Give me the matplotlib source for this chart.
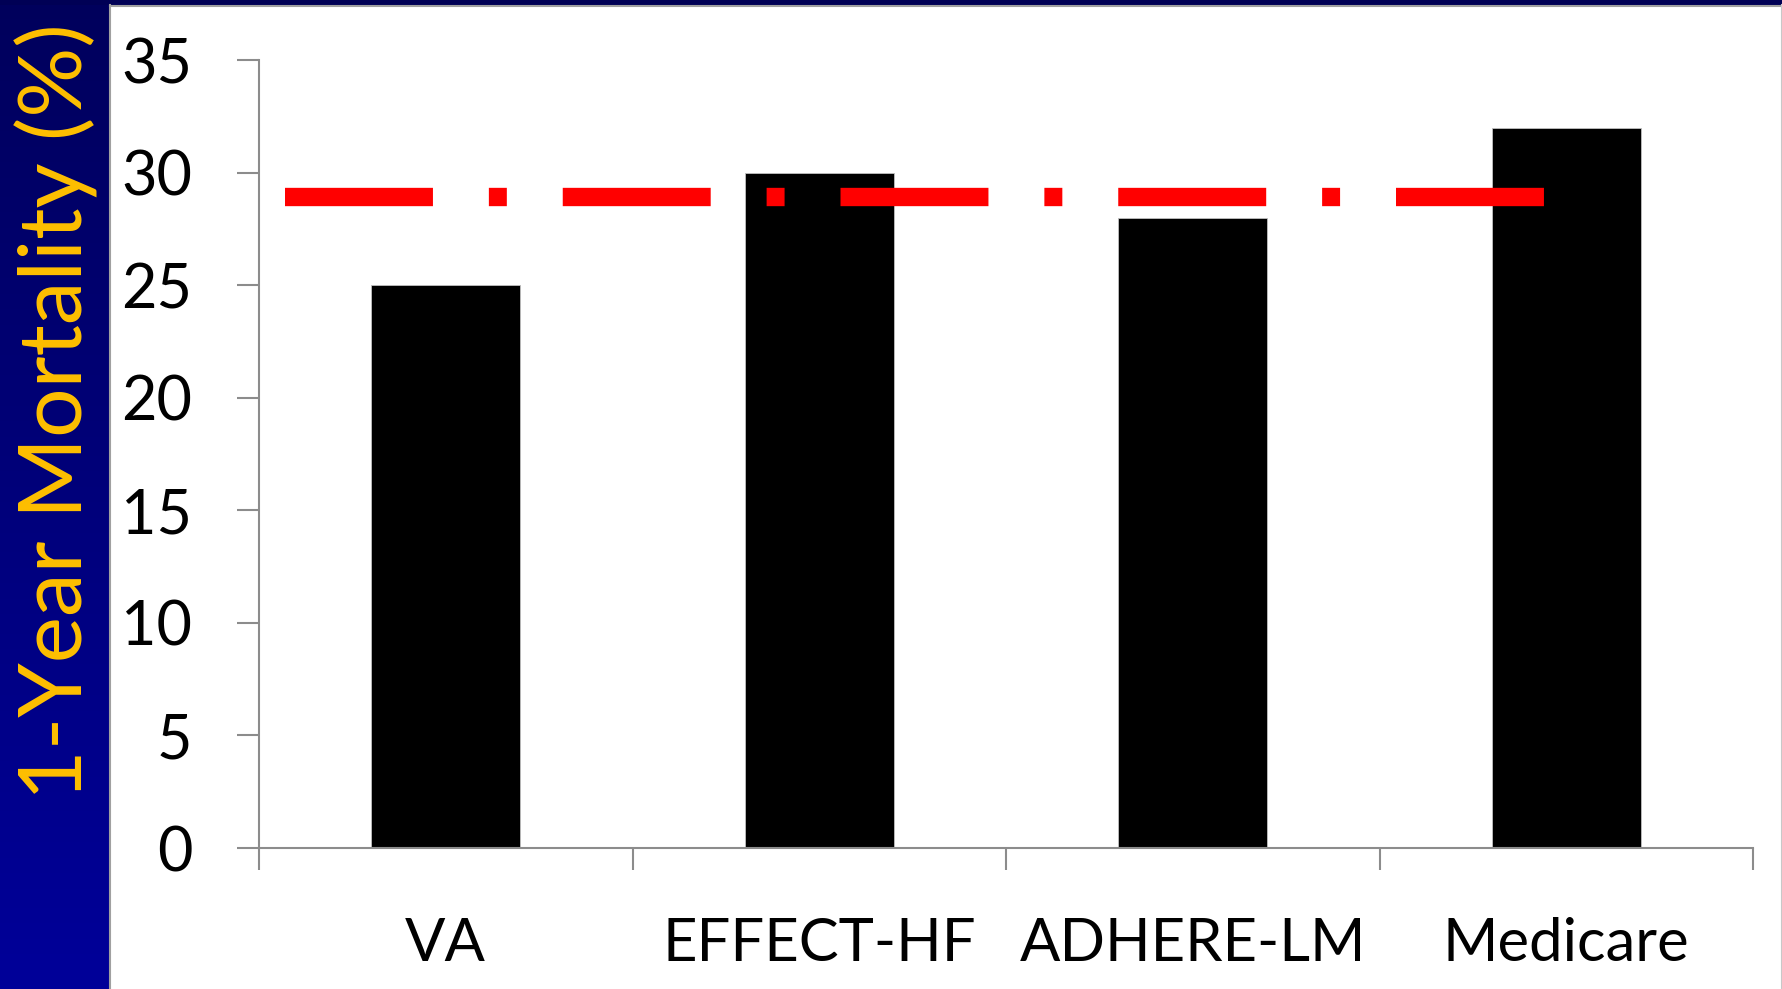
import numpy as np
import matplotlib
matplotlib.use("Agg")
import matplotlib.pyplot as plt

# Data
categories = ["VA", "EFFECT-HF", "ADHERE-LM", "Medicare"]
mortality = [25, 30, 28, 32]
reference_level = 28.9
ref_span = [-0.43, 2.95]
y_ticks = [0, 5, 10, 15, 20, 25, 30, 35]

plt.rcParams["font.family"] = ["Lato", "DejaVu Sans"]

fig = plt.figure(figsize=(17.83, 9.89), dpi=100)
W, H = 1783, 989

# blue side strip with vertical gradient
side = fig.add_axes([0, 0, 110 / W, 1])
grad = np.linspace(0, 1, 256).reshape(-1, 1)
cmap = matplotlib.colors.LinearSegmentedColormap.from_list("navy", ["#000099", "#00005c"])
side.imshow(grad, aspect="auto", cmap=cmap, origin="lower", extent=[0, 1, 0, 1])
side.set_axis_off()

# top strip
top = fig.add_axes([0, 1 - 5 / H, 1, 5 / H])
top.set_facecolor("#000055")
top.set_xticks([])
top.set_yticks([])
for s in top.spines.values():
    s.set_visible(False)

# gray edges
fig.add_artist(plt.Line2D([110 / W, 110 / W], [0, 1 - 5 / H], color="#a0a0a0", lw=1.5))
fig.add_artist(plt.Line2D([110 / W, 1], [1 - 6 / H, 1 - 6 / H], color="#a0a0a0", lw=1.5))
fig.add_artist(plt.Line2D([1 - 1 / W, 1 - 1 / W], [0, 1 - 5 / H], color="#c8c8c8", lw=1.5))

# y label
fig.text(56 / W, 1 - 412 / H, "1-Year Mortality (%)", rotation=90, color="#ffc000",
         fontsize=63, ha="center", va="center")

ax = fig.add_axes([259 / W, 1 - 848 / H, (1753 - 259) / W, (848 - 60) / H])
x = np.arange(len(categories))
ax.bar(x, mortality, width=0.4, color="black", edgecolor="#c0c0c0", linewidth=0.6, zorder=2)

ax.plot(ref_span, [reference_level, reference_level], color="red", lw=13.2,
        dashes=(8.07, 3.05, 0.98, 3.05), solid_capstyle="butt", dash_capstyle="butt", zorder=3)

ax.set_xlim(-0.5, 3.5)
ax.set_ylim(0, 35)
ax.set_yticks(y_ticks)
ax.set_xticks(np.arange(-0.5, 4, 1))
ax.set_xticklabels([])
ax.set_xticks(x, minor=True)
ax.set_xticklabels(categories, minor=True)

for s in ["top", "right"]:
    ax.spines[s].set_visible(False)
for s in ["left", "bottom"]:
    ax.spines[s].set_color("#8c8c8c")
    ax.spines[s].set_linewidth(1.5)

ax.tick_params(axis="y", length=16, width=1.5, color="#8c8c8c", pad=32, labelsize=44)
ax.tick_params(axis="x", which="major", length=16, width=1.5, color="#8c8c8c")
ax.tick_params(axis="x", which="minor", length=0, pad=50, labelsize=43)

fig.savefig("out.png", dpi=100)
